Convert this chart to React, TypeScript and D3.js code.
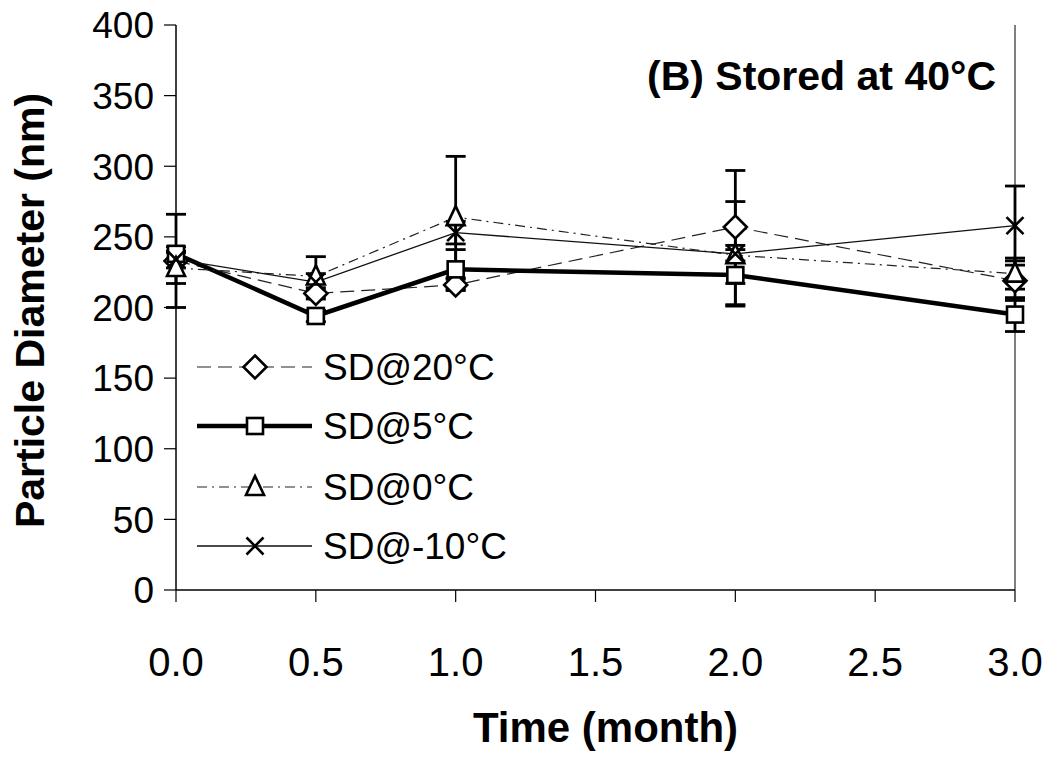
import React from "react";
import * as d3 from "d3";

const times = [0, 0.5, 1.0, 2.0, 3.0];
const xTicks = [0, 0.5, 1.0, 1.5, 2.0, 2.5, 3.0];
const yTicks = [0, 50, 100, 150, 200, 250, 300, 350, 400];

const seriesNames = ["SD@20°C", "SD@5°C", "SD@0°C", "SD@-10°C"];
const sd20 = [233, 210, 216, 257, 219];
const sd20err = [33, 4, 4, 40, 14];
const sd5 = [238, 194, 227, 223, 195];
const sd5err = [5, 4, 14, 21, 12];
const sd0 = [228, 222, 264, 237, 224];
const sd0err = [11, 14, 43, 4, 11];
const sdm10 = [234, 218, 253, 238, 258];
const sdm10err = [6, 6, 8, 37, 28];

const W = 1050, H = 761;
const left = 176, right = 1015, top = 25, bottom = 590;

type Style = { width: number; dash: string; color: string; marker: string };
const styles: Style[] = [
  { width: 1.2, dash: "14,7", color: "#222", marker: "diamond" },
  { width: 4.5, dash: "", color: "#000", marker: "square" },
  { width: 1.2, dash: "10,5,2,5", color: "#222", marker: "triangle" },
  { width: 1.3, dash: "", color: "#111", marker: "x" },
];

function Marker({ kind, x, y }: { kind: string; x: number; y: number }) {
  const sw = 2.6;
  if (kind === "diamond") {
    const r = 11.5;
    return <path d={`M${x},${y - r}L${x + r},${y}L${x},${y + r}L${x - r},${y}Z`} fill="#fff" stroke="#000" strokeWidth={sw} />;
  }
  if (kind === "square") {
    const r = 8;
    return <rect x={x - r} y={y - r} width={2 * r} height={2 * r} fill="#fff" stroke="#000" strokeWidth={sw} />;
  }
  if (kind === "triangle") {
    const r = 9;
    return <path d={`M${x},${y - r - 2}L${x + r},${y + r - 1}L${x - r},${y + r - 1}Z`} fill="#fff" stroke="#000" strokeWidth={sw} />;
  }
  const r = 8.5;
  return <path d={`M${x - r},${y - r}L${x + r},${y + r}M${x - r},${y + r}L${x + r},${y - r}`} stroke="#000" strokeWidth={sw} fill="none" />;
}

export default function App() {
  const x = d3.scaleLinear().domain([0, 3]).range([left, right]);
  const y = d3.scaleLinear().domain([0, 400]).range([bottom, top]);
  const vals = [sd20, sd5, sd0, sdm10];
  const errs = [sd20err, sd5err, sd0err, sdm10err];
  const line = d3.line<number>().x((_, i) => x(times[i])).y((v) => y(v));
  const font = "Arial, 'Liberation Sans', Helvetica, sans-serif";
  const legendY = [367, 426, 487, 546];

  return (
    <svg width={W} height={H} style={{ position: "absolute", left: 0, top: 0, background: "#fff" }} fontFamily={font}>
      <rect x={0} y={0} width={W} height={H} fill="#fff" />
      {/* axes */}
      <line x1={left} y1={top} x2={left} y2={bottom} stroke="#000" strokeWidth={1.5} />
      <line x1={left} y1={bottom} x2={right} y2={bottom} stroke="#000" strokeWidth={1.5} />
      <line x1={right} y1={top} x2={right} y2={bottom} stroke="#000" strokeWidth={1} />
      {yTicks.map((t) => (
        <g key={"y" + t}>
          <line x1={left - 12} x2={left} y1={y(t)} y2={y(t)} stroke="#000" strokeWidth={1.2} />
          <text x={left - 22} y={y(t)} dy="0.36em" textAnchor="end" fontSize={37}>{t}</text>
        </g>
      ))}
      {xTicks.map((t) => (
        <g key={"x" + t}>
          <line x1={x(t)} x2={x(t)} y1={bottom} y2={bottom + 12} stroke="#000" strokeWidth={1.2} />
          <text x={x(t)} y={676} textAnchor="middle" fontSize={40}>{t.toFixed(1)}</text>
        </g>
      ))}
      <text x={(left + right) / 2 + 10} y={742} textAnchor="middle" fontSize={42} fontWeight="bold">Time (month)</text>
      <text transform={`translate(44,${(top + bottom) / 2 + 3}) rotate(-90)`} textAnchor="middle" fontSize={41} fontWeight="bold">Particle Diameter (nm)</text>
      <text x={996} y={90} textAnchor="end" fontSize={41} fontWeight="bold">(B) Stored at 40°C</text>

      {/* error bars */}
      {vals.map((vs, si) => (
        <g key={"e" + si}>
          {vs.map((v, i) => {
            const cx = x(times[i]);
            const hi = y(v + errs[si][i]);
            const lo = y(v - errs[si][i]);
            return (
              <g key={i}>
                <line x1={cx} x2={cx} y1={hi} y2={lo} stroke="#000" strokeWidth={2.8} />
                <line x1={cx - 10} x2={cx + 10} y1={hi} y2={hi} stroke="#000" strokeWidth={2.8} />
                <line x1={cx - 10} x2={cx + 10} y1={lo} y2={lo} stroke="#000" strokeWidth={2.8} />
              </g>
            );
          })}
        </g>
      ))}
      {/* lines */}
      {vals.map((vs, si) => (
        <path key={"l" + si} d={line(vs) || ""} fill="none" stroke={styles[si].color} strokeWidth={styles[si].width} strokeDasharray={styles[si].dash} />
      ))}
      {/* markers */}
      {vals.map((vs, si) => (
        <g key={"m" + si}>
          {vs.map((v, i) => (
            <Marker key={i} kind={styles[si].marker} x={x(times[i])} y={y(v)} />
          ))}
        </g>
      ))}
      {/* legend */}
      {seriesNames.map((n, i) => (
        <g key={"lg" + i}>
          <line x1={197} x2={312} y1={legendY[i]} y2={legendY[i]} stroke={styles[i].color} strokeWidth={styles[i].width} strokeDasharray={styles[i].dash} />
          <Marker kind={styles[i].marker} x={255} y={legendY[i]} />
          <text x={323} y={legendY[i]} dy="0.36em" fontSize={37}>{n}</text>
        </g>
      ))}
    </svg>
  );
}
